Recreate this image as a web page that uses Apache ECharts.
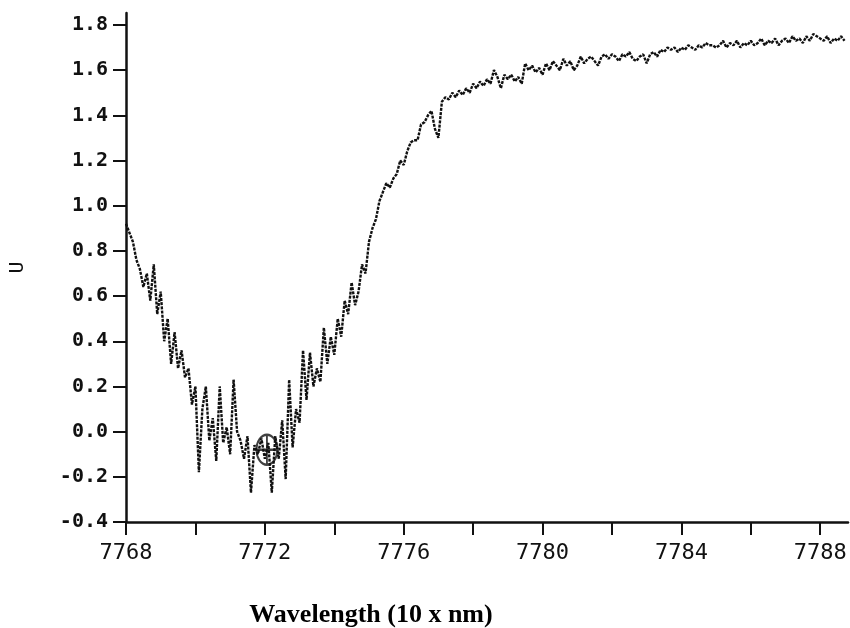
<!DOCTYPE html>
<html>
<head>
<meta charset="utf-8">
<script src="https://cdn.jsdelivr.net/npm/echarts@6/dist/echarts.min.js"></script>
<style>
  html, body { margin: 0; padding: 0; background: #fff; }
  #spectrum { width: 850px; height: 628px; }
</style>
</head>
<body>
<div id="spectrum"></div>
<script>
// wavelength grid of the scan (10 x nm), one reading every 0.1
const wlStart = 7768.0;
const wlStep = 0.1;

// readings, from 7768.0 to 7788.7
const readings = [
  0.92, 0.88, 0.84, 0.76, 0.72, 0.64, 0.70, 0.58, 0.74, 0.52,
  0.62, 0.40, 0.50, 0.30, 0.44, 0.28, 0.36, 0.24, 0.28, 0.12,
  0.20, -0.18, 0.10, 0.20, -0.04, 0.06, -0.13, 0.20, -0.05, 0.02,
  -0.10, 0.23, 0.00, -0.04, -0.12, -0.02, -0.27, -0.06, -0.10, -0.03,
  -0.12, -0.05, -0.27, -0.02, -0.12, 0.05, -0.21, 0.23, -0.07, 0.10,
  0.04, 0.36, 0.14, 0.35, 0.20, 0.28, 0.22, 0.46, 0.30, 0.42,
  0.34, 0.50, 0.42, 0.58, 0.52, 0.66, 0.56, 0.62, 0.74, 0.70,
  0.84, 0.90, 0.94, 1.02, 1.06, 1.10, 1.08, 1.12, 1.14, 1.20,
  1.18, 1.24, 1.28, 1.29, 1.29, 1.36, 1.37, 1.40, 1.42, 1.34,
  1.30, 1.46, 1.48, 1.47, 1.50, 1.48, 1.51, 1.49, 1.52, 1.50,
  1.54, 1.52, 1.55, 1.53, 1.56, 1.54, 1.60, 1.57, 1.52, 1.58,
  1.56, 1.58, 1.55, 1.57, 1.54, 1.63, 1.60, 1.62, 1.59, 1.61,
  1.58, 1.63, 1.60, 1.64, 1.62, 1.60, 1.65, 1.62, 1.64, 1.60,
  1.62, 1.66, 1.63, 1.65, 1.66, 1.64, 1.62, 1.66, 1.67, 1.65,
  1.67, 1.66, 1.64, 1.67, 1.66, 1.68, 1.65, 1.64, 1.66, 1.67,
  1.63, 1.67, 1.68, 1.66, 1.69, 1.68, 1.70, 1.69, 1.70, 1.68,
  1.70, 1.69, 1.71, 1.70, 1.69, 1.71, 1.70, 1.72, 1.71, 1.71,
  1.70, 1.71, 1.73, 1.70, 1.72, 1.71, 1.73, 1.70, 1.72, 1.71,
  1.73, 1.71, 1.72, 1.74, 1.71, 1.73, 1.72, 1.74, 1.71, 1.73,
  1.74, 1.72, 1.75, 1.73, 1.74, 1.72, 1.75, 1.73, 1.76, 1.75,
  1.74, 1.73, 1.75, 1.72, 1.74, 1.73, 1.75, 1.73
];

// circled cross drawn on the line minimum
const markerPoint = [7772.06, -0.08];

const xTicks = [7768, 7770, 7772, 7774, 7776, 7778, 7780, 7782, 7784, 7786, 7788];
const xTickLabels = [7768, 7772, 7776, 7780, 7784, 7788];
const yTickLabels = [-0.4, -0.2, 0.0, 0.2, 0.4, 0.6, 0.8, 1.0, 1.2, 1.4, 1.6, 1.8];

let points = readings.map((v, i) => [+(wlStart + i * wlStep).toFixed(1), v]);

let myChart = echarts.init(document.getElementById('spectrum'));
let option = {
  animation: false,
  backgroundColor: '#fff',
  grid: {
    left: 126,
    right: 2,
    top: 13,
    bottom: 106,
    outerBoundsMode: 'none',
  },
  xAxis: {
    type: 'value',
    min: 7768,
    max: 7788.8,
    name: 'Wavelength (10 x nm)',
    nameLocation: 'middle',
    nameGap: 80,
    nameTextStyle: {
      fontFamily: 'Liberation Serif',
      fontWeight: 'bold',
      fontSize: 26,
      color: '#000',
      padding: [0, 232, 0, 0],
    },
    splitLine: { show: false },
    axisLine: { onZero: false, lineStyle: { color: '#111', width: 2.5 } },
    axisTick: {
      customValues: xTicks,
      inside: false,
      length: 13,
      lineStyle: { color: '#111', width: 2 },
    },
    axisLabel: {
      customValues: xTickLabels,
      margin: 20,
      fontFamily: 'DejaVu Sans Mono',
      fontSize: 22,
      color: '#111',
      formatter: (v) => String(v),
    },
  },
  yAxis: {
    type: 'value',
    min: -0.4,
    max: 1.853,
    name: 'U',
    nameLocation: 'middle',
    nameRotate: 90,
    nameGap: 98,
    nameTextStyle: {
      fontFamily: 'DejaVu Sans Mono',
      fontSize: 20,
      color: '#111',
    },
    splitLine: { show: false },
    axisLine: { onZero: false, lineStyle: { color: '#111', width: 2.5 } },
    axisTick: {
      customValues: yTickLabels,
      inside: false,
      length: 13,
      lineStyle: { color: '#111', width: 2 },
    },
    axisLabel: {
      customValues: yTickLabels,
      margin: 18,
      fontFamily: 'DejaVu Sans Mono',
      fontWeight: 'bold',
      fontSize: 20,
      color: '#111',
      formatter: (v) => v.toFixed(1),
    },
  },
  series: [
    {
      name: 'spectrum',
      type: 'line',
      data: points,
      showSymbol: false,
      lineStyle: { color: '#111', width: 2.4, type: [3, 1.2], cap: 'butt' },
    },
    {
      name: 'marker',
      type: 'scatter',
      data: [markerPoint],
      symbol: 'path://M10 0 A10 15 0 1 0 10 30 A10 15 0 1 0 10 0 Z M0 15 L20 15 M10 0 L10 30',
      symbolSize: [21, 30],
      symbolKeepAspect: false,
      itemStyle: { color: 'transparent', borderColor: '#111', borderWidth: 2.2 },
    },
  ],
};
myChart.setOption(option);
window.onresize = () => {
  myChart.resize();
};
</script>
</body>
</html>
